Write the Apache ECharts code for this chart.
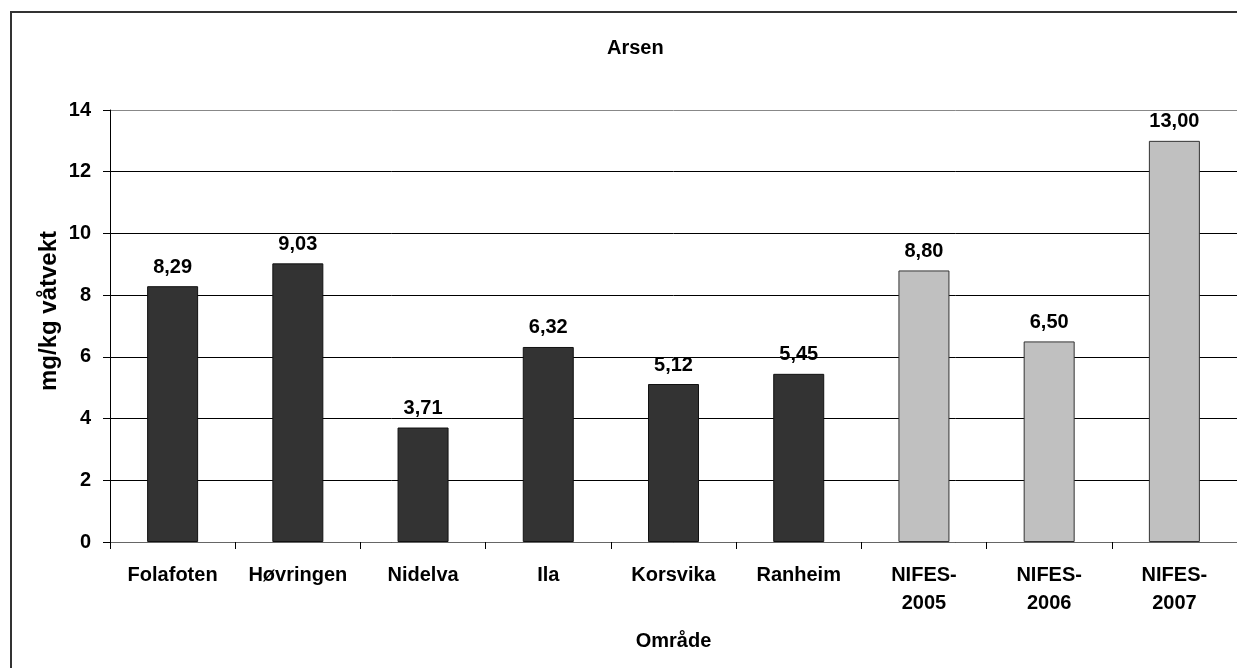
<!DOCTYPE html>
<html lang="no">
<head>
    <meta charset="UTF-8">
    <title>Arsen</title>
    <style>
        html,body{
            width: 100%;
            height: 100%;
            margin: 0;
            padding: 0;
            background: #fff;
        }
        #chart{
            width: 1237px;
            height: 668px;
        }
    </style>
</head>
<body>
    <div id="chart"></div>
    <script src="https://cdn.jsdelivr.net/npm/echarts@6/dist/echarts.min.js"></script>
    <script>
        // data
        var omraader = ['Folafoten', 'Høvringen', 'Nidelva', 'Ila', 'Korsvika', 'Ranheim', 'NIFES-2005', 'NIFES-2006', 'NIFES-2007'];
        var arsen = [8.29, 9.03, 3.71, 6.32, 5.12, 5.45, 8.80, 6.50, 13.00];
        var erNifes = [false, false, false, false, false, false, true, true, true];
        var yTicks = [0, 2, 4, 6, 8, 10, 12, 14];

        var font = "'Liberation Sans', Arial, sans-serif";
        var myChart = echarts.init(document.getElementById('chart'));

        var barData = arsen.map(function (v, i) {
            return {
                value: v,
                itemStyle: erNifes[i]
                    ? { color: '#c0c0c0', borderColor: '#333', borderWidth: 1 }
                    : { color: '#333333', borderColor: '#111', borderWidth: 1 }
            };
        });

        var option = {
            backgroundColor: '#fff',
            animation: false,
            title: {
                text: 'Arsen',
                left: 602,
                top: 33,
                textStyle: { fontFamily: font, fontSize: 20, fontWeight: 'bold', color: '#000' }
            },
            grid: {
                left: 110,
                right: 0,
                top: 110,
                bottom: 126,
                containLabel: false
            },
            xAxis: {
                type: 'category',
                data: omraader,
                name: 'Område',
                nameLocation: 'middle',
                nameGap: 89,
                nameMoveOverlap: false,
                nameTextStyle: { fontFamily: font, fontSize: 20, fontWeight: 'bold', color: '#000' },
                axisLine: { lineStyle: { color: '#666', width: 1 } },
                axisTick: { show: true, length: 7, alignWithLabel: false, lineStyle: { color: '#000' } },
                axisLabel: {
                    interval: 0,
                    margin: 19,
                    lineHeight: 28,
                    fontFamily: font,
                    fontSize: 20,
                    fontWeight: 'bold',
                    color: '#000',
                    formatter: function (v) { return v.replace('-', '-\n'); }
                }
            },
            yAxis: {
                type: 'value',
                min: yTicks[0],
                max: yTicks[yTicks.length - 1],
                interval: 2,
                name: 'mg/kg våtvekt',
                nameLocation: 'middle',
                nameGap: 49,
                nameMoveOverlap: false,
                nameRotate: 90,
                nameTextStyle: { fontFamily: font, fontSize: 24, fontWeight: 'bold', color: '#000', padding: [0, 0, 0, 30] },
                axisLine: { show: true, lineStyle: { color: '#000', width: 1 } },
                axisTick: { show: true, length: 7, lineStyle: { color: '#000' } },
                axisLabel: {
                    margin: 19,
                    fontFamily: font,
                    fontSize: 20,
                    fontWeight: 'bold',
                    color: '#000'
                },
                splitLine: {
                    show: true,
                    lineStyle: {
                        color: ['#000', '#000', '#000', '#000', '#000', '#000', '#000', '#888'],
                        width: 1
                    }
                }
            },
            series: [{
                type: 'bar',
                data: barData,
                barWidth: 51,
                label: {
                    show: true,
                    position: 'top',
                    distance: 9,
                    fontFamily: font,
                    fontSize: 20,
                    fontWeight: 'bold',
                    color: '#000',
                    formatter: function (p) { return p.value.toFixed(2).replace('.', ','); }
                }
            }],
            graphic: [{
                type: 'rect',
                silent: true,
                z: 100,
                shape: { x: 11, y: 12, width: 1300, height: 700 },
                style: { fill: 'none', stroke: '#333', lineWidth: 2 }
            }]
        };
        myChart.setOption(option);
    </script>
</body>
</html>
